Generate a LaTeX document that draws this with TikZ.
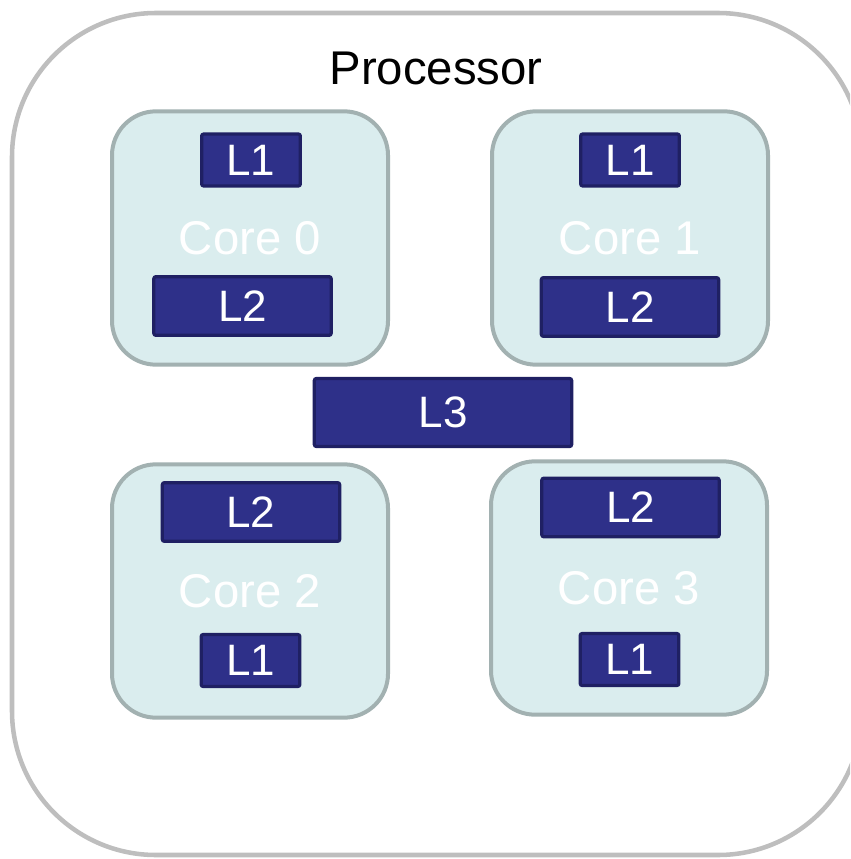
\documentclass[tikz,border=0pt]{standalone}
\usepackage{fontspec}
\setmainfont{Liberation Sans}
\definecolor{chipline}{HTML}{BEBEBE}
\definecolor{corefill}{HTML}{DAEDEE}
\definecolor{coreline}{HTML}{A2B1B1}
\definecolor{cachefill}{HTML}{2E3089}
\definecolor{cacheline}{HTML}{1F2063}
\tikzset{
  corebox/.style={draw=coreline, fill=corefill, line width=3pt,
    rounded corners=33pt, minimum width=207pt, minimum height=190pt,
    inner sep=0pt, text=white, font=\fontsize{35.5}{35.5}\selectfont},
  cachebox/.style={draw=cacheline, fill=cachefill, line width=2.4pt,
    rounded corners=1.5pt, inner sep=0pt, text=white,
    font=\fontsize{33}{33}\selectfont},
  lone/.style={cachebox, minimum width=74pt, minimum height=39pt},
  ltwo/.style={cachebox, minimum width=133pt, minimum height=44pt},
  lthree/.style={cachebox, minimum width=193pt, minimum height=51pt},
}
\begin{document}
\begin{tikzpicture}[x=0.75pt, y=-0.75pt]
  \useasboundingbox (0,0) rectangle (850,859);
  \clip (0,0) rectangle (850,859);
  % processor package
  \draw[chipline, line width=3.4pt, rounded corners=108pt]
    (12,13) rectangle (862,855);
  \node[font=\fontsize{35.5}{35.5}\selectfont] (proc) at (436,68) {Processor};
  % cores
  \node[corebox] (c0) at (250,238) {Core 0};
  \node[corebox] (c1) at (630,238) {Core 1};
  \node[corebox] (c2) at (250,591) {Core 2};
  \node[corebox] (c3) at (629,588) {Core 3};
  % private caches
  \node[lone] (c0l1) at (251,160) {L1};
  \node[ltwo] (c0l2) at (242.5,306) {L2};
  \node[lone] (c1l1) at (630,160) {L1};
  \node[ltwo] (c1l2) at (630,307) {L2};
  \node[ltwo] (c2l2) at (251,512) {L2};
  \node[lone] (c2l1) at (250.5,660.5) {L1};
  \node[ltwo] (c3l2) at (630.5,507.5) {L2};
  \node[lone] (c3l1) at (629.5,659.5) {L1};
  % shared cache
  \node[lthree] (l3) at (443,412.5) {L3};
\end{tikzpicture}
\end{document}
